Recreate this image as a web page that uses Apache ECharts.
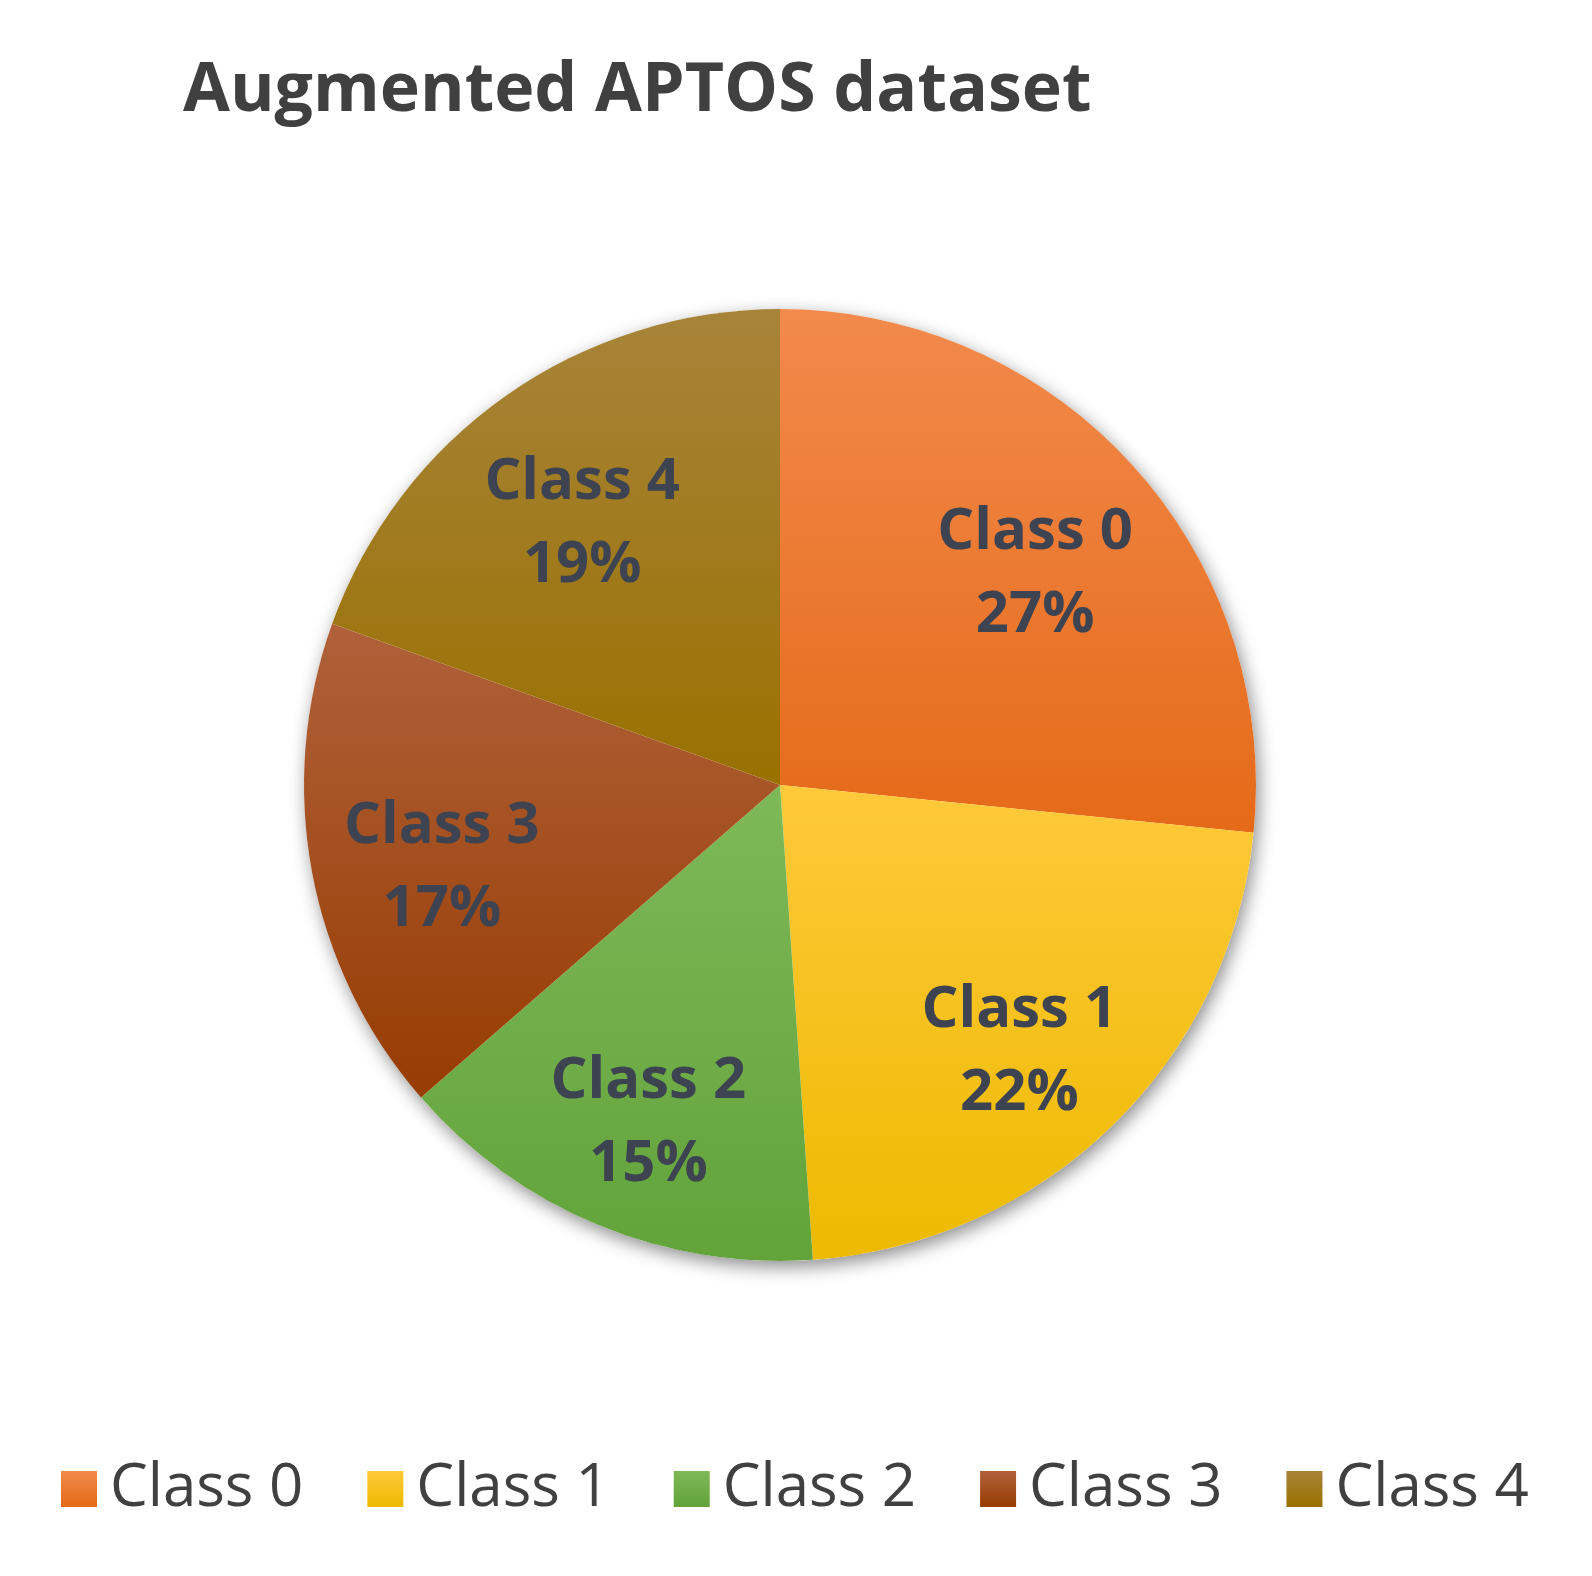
<!DOCTYPE html>
<html>
<head>
<meta charset="utf-8">
<script src="https://cdn.jsdelivr.net/npm/echarts@6/dist/echarts.min.js"></script>
<style>
  html, body { margin: 0; padding: 0; background: #fff; }
  #chart { width: 1592px; height: 1576px; }
</style>
</head>
<body>
<div id="chart"></div>
<script>
// Data (slice shares, labels round to 27/22/15/17/19 %)
const classNames = ["Class 0", "Class 1", "Class 2", "Class 3", "Class 4"];
const shareValues = [26.6, 22.3, 14.7, 16.9, 19.5];

// slice colours, light (top) -> dark (bottom)
const topColors = ["#F28A4C", "#FFC93A", "#7EB958", "#B0613A", "#A8843A"];
const bottomColors = ["#E56A18", "#EDBA00", "#62A33A", "#973C02", "#997100"];

const font = "'Open Sans', 'DejaVu Sans', sans-serif";
const center = [780, 785];
const radius = 476;

const grad = (i) =>
  new echarts.graphic.LinearGradient(0, 0, 0, 1, [
    { offset: 0, color: topColors[i] },
    { offset: 1, color: bottomColors[i] },
  ]);

const pieData = classNames.map((name, i) => ({
  name: name,
  value: shareValues[i],
  itemStyle: { color: grad(i) },
}));

const option = {
  backgroundColor: "#ffffff",
  animation: false,
  title: {
    text: "Augmented APTOS dataset",
    left: 178,
    top: 53,
    textStyle: {
      fontFamily: font,
      fontSize: 68,
      fontWeight: "bold",
      color: "#404040",
    },
  },
  legend: {
    data: classNames,
    bottom: 52,
    left: 56,
    icon: "rect",
    itemWidth: 36,
    itemHeight: 36,
    itemGap: 64,
    textStyle: {
      fontFamily: font,
      fontSize: 60,
      color: "#404040",
      padding: [0, 0, 0, 8],
    },
  },
  series: [
    {
      // white disc under the slices, only to cast the soft shadow
      type: "pie",
      silent: true,
      center: center,
      radius: [0, radius],
      label: { show: false },
      labelLine: { show: false },
      itemStyle: {
        color: "#ffffff",
        shadowBlur: 18,
        shadowOffsetX: 3,
        shadowOffsetY: 6,
        shadowColor: "rgba(0,0,0,0.45)",
      },
      data: [{ name: "_shadow", value: 1 }],
      z: 1,
    },
    {
      name: "Augmented APTOS",
      type: "pie",
      startAngle: 90,
      clockwise: true,
      center: center,
      radius: [0, radius],
      label: { show: false },
      labelLine: { show: false },
      emphasis: { disabled: true },
      data: pieData,
      z: 2,
    },
    {
      // transparent ring that places the labels further out
      type: "pie",
      silent: true,
      startAngle: 90,
      clockwise: true,
      center: center,
      radius: [206, radius],
      percentPrecision: 0,
      itemStyle: { color: "rgba(0,0,0,0)" },
      label: {
        show: true,
        position: "inside",
        formatter: "{b}\n{d}%",
        offset: [0, 20],
        fontFamily: font,
        fontSize: 58,
        fontWeight: "bold",
        lineHeight: 83,
        color: "#3D4350",
      },
      labelLine: { show: false },
      data: classNames.map((name, i) => ({ name: name, value: shareValues[i] })),
      z: 3,
    },
  ],
};

const myChart = echarts.init(document.getElementById("chart"));
myChart.setOption(option);
</script>
</body>
</html>
